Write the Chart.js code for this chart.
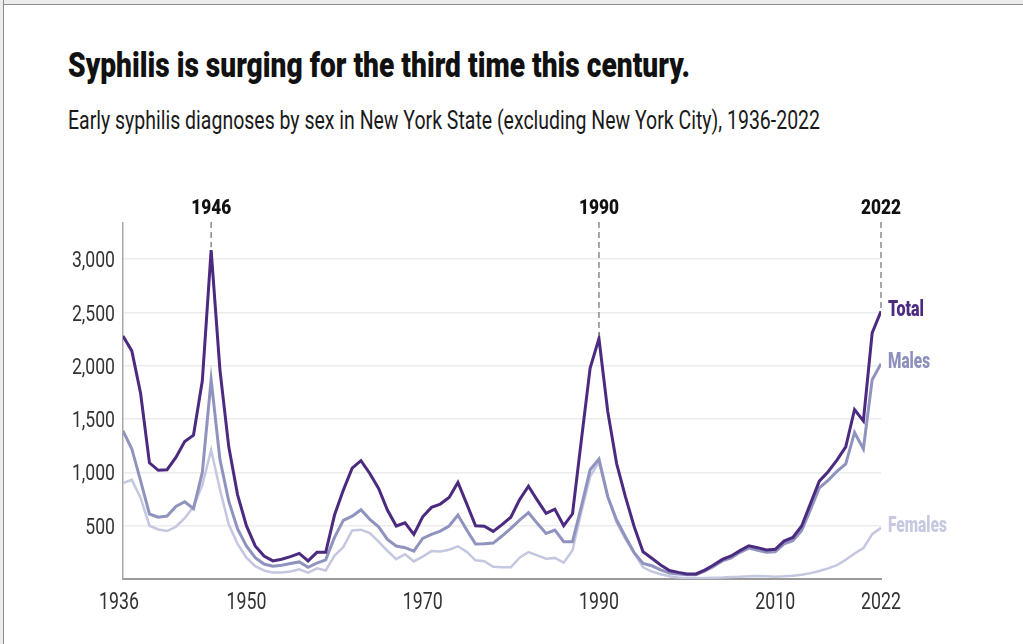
<!DOCTYPE html>
<html><head><meta charset="utf-8">
<script src="https://cdn.jsdelivr.net/npm/chart.js@4"></script>
<style>
html,body{margin:0;padding:0;background:#fff;width:1023px;height:644px;overflow:hidden;}
#frameTop{position:absolute;left:0;top:0;width:1023px;height:4px;background:#ececec;border-bottom:1.5px solid #8b8b90;z-index:2;}
#frameLeft{position:absolute;left:0;top:0;width:3px;height:644px;background:#ececec;border-right:1.5px solid #8b8b90;z-index:2;}
.t{position:absolute;left:68px;white-space:nowrap;transform-origin:0 0;font-family:Roboto,'DejaVu Sans Condensed',sans-serif;color:#111;line-height:1;}
#title{top:48px;font-size:35px;font-weight:900;}
#sub{top:108px;font-size:25px;color:#1a1a1a;}
canvas{position:absolute;left:0;top:0;}
</style></head>
<body>
<div id="frameTop"></div><div id="frameLeft"></div>
<div class="t" id="title">Syphilis is surging for the third time this century.</div>
<div class="t" id="sub">Early syphilis diagnoses by sex in New York State (excluding New York City), 1936-2022</div>
<canvas id="c" width="1023" height="644"></canvas>
<script>
const years=[1936,1937,1938,1939,1940,1941,1942,1943,1944,1945,
1946,1947,1948,1949,1950,1951,1952,1953,1954,1955,
1956,1957,1958,1959,1960,1961,1962,1963,1964,1965,
1966,1967,1968,1969,1970,1971,1972,1973,1974,1975,
1976,1977,1978,1979,1980,1981,1982,1983,1984,1985,
1986,1987,1988,1989,1990,1991,1992,1993,1994,1995,
1996,1997,1998,1999,2000,2001,2002,2003,2004,2005,
2006,2007,2008,2009,2010,2011,2012,2013,2014,2015,
2016,2017,2018,2019,2020,2021,2022];
const total=[2280,2140,1740,1090,1020,1025,1140,1290,1350,1860,
3085,1960,1240,790,500,310,215,170,185,210,
240,170,250,250,600,834,1040,1110,990,850,
647,497,528,419,584,672,703,765,906,705,
500,495,447,510,580,745,870,740,615,655,
500,612,1300,1980,2255,1570,1085,772,490,256,
194,131,80,62,47,47,84,131,184,216,
266,312,294,272,278,356,390,497,709,918,
1006,1115,1240,1590,1484,2309,2512];
const males=[1390,1220,920,610,580,590,680,725,660,1000,
1870,1120,730,470,310,200,140,120,130,145,
160,110,150,180,390,550,590,650,560,490,
372,309,294,262,381,419,450,497,600,459,
328,330,337,403,475,553,622,522,428,459,
350,350,678,1025,1125,772,553,397,247,147,
124,86,55,47,40,40,74,118,170,198,
250,290,270,250,256,330,360,455,650,855,
925,1010,1080,1375,1220,1870,2020];
const females=[900,930,760,500,465,450,490,570,680,880,
1210,840,510,330,200,120,80,60,60,70,
90,60,100,80,220,300,455,463,430,350,
265,186,232,165,210,262,258,275,307,255,
175,167,115,110,110,200,253,222,190,198,
153,270,630,960,1100,770,530,375,240,110,
70,45,25,15,8,8,10,12,14,18,
20,25,28,25,22,25,30,40,55,75,
100,130,180,240,290,420,480];
const xTicks=[1936,1950,1970,1990,2010,2022];
const yTicks=[500,1000,1500,2000,2500,3000];
const markerYears=[1946,1990,2022];
const seriesNames=['Total','Males','Females'];

const FONT="Roboto,'DejaVu Sans Condensed',sans-serif";
const lineColors=['#4b2a80','#8f93be','#c4c7e0'];
const labelColors=['#4b2a80','#8d91bb','#c6c9df'];
const labelWidths=[36,42,59];
const widths=[3,3,2.5];
const seriesData=[total,males,females];

function fit(id,target){const el=document.getElementById(id);const w=el.getBoundingClientRect().width;el.style.transform='scaleX('+(target/w)+')';}
fit('title',622);fit('sub',752);

function drawText(ctx,text,x,y,font,color,align,sx,targetW){
  ctx.save();ctx.font=font;ctx.textBaseline='alphabetic';
  let s=sx;if(targetW){s=targetW/ctx.measureText(text).width;}
  ctx.translate(x,y);ctx.scale(s,1);ctx.textAlign=align;ctx.fillStyle=color;ctx.fillText(text,0,0);ctx.restore();
}

const annot={id:'annot',afterDatasetsDraw(chart){
  const {ctx,scales:{x,y}}=chart;ctx.save();
  yTicks.forEach(v=>{drawText(ctx,v.toLocaleString('en-US'),115,y.getPixelForValue(v)+8,'22px '+FONT,'#333','right',0.8);});
  xTicks.forEach((v,i)=>{drawText(ctx,String(v),x.getPixelForValue(v)-(i===0?4:0),609,'24px '+FONT,'#333','center',0.74);});
  markerYears.forEach(yr=>{
    const i=years.indexOf(yr);const px=x.getPixelForValue(yr);const py=y.getPixelForValue(total[i]);
    ctx.setLineDash([6,4]);ctx.strokeStyle='#8a8a8a';ctx.lineWidth=1.5;
    ctx.beginPath();ctx.moveTo(px,222);ctx.lineTo(px,py-3);ctx.stroke();ctx.setLineDash([]);
    drawText(ctx,String(yr),px,214,'900 20px '+FONT,'#111','center',null,40);
  });
  seriesNames.forEach((n,k)=>{
    const d=seriesData[k];const py=y.getPixelForValue(d[d.length-1]);
    drawText(ctx,n,888,py+4.6,'900 21.5px '+FONT,labelColors[k],'left',null,labelWidths[k]);
  });
  ctx.restore();
}};

new Chart(document.getElementById('c'),{
  type:'line',
  data:{datasets:seriesNames.map((n,k)=>({label:n,data:years.map((yr,i)=>({x:yr,y:seriesData[k][i]})),borderColor:lineColors[k],borderWidth:widths[k],pointRadius:0,tension:0,fill:false}))},
  options:{responsive:false,animation:false,
    layout:{padding:{left:0,right:142,top:223,bottom:0}},
    plugins:{legend:{display:false},tooltip:{enabled:false}},
    scales:{
      x:{type:'linear',min:1936,max:2022,
        afterBuildTicks:s=>{s.ticks=xTicks.map(v=>({value:v}));},
        afterFit:s=>{s.height=65;},
        grid:{display:false,drawTicks:false},
        border:{display:true,color:'#9a9a9a',width:2},
        ticks:{display:false}},
      y:{min:0,max:3340,
        afterBuildTicks:s=>{s.ticks=yTicks.map(v=>({value:v}));},
        afterFit:s=>{s.width=123;},
        grid:{color:'#ececec',lineWidth:1.5,drawTicks:false},
        border:{display:true,color:'#a8a8a8',width:1.5},
        ticks:{display:false}}
    }
  },
  plugins:[annot]
});
</script>
</body></html>
